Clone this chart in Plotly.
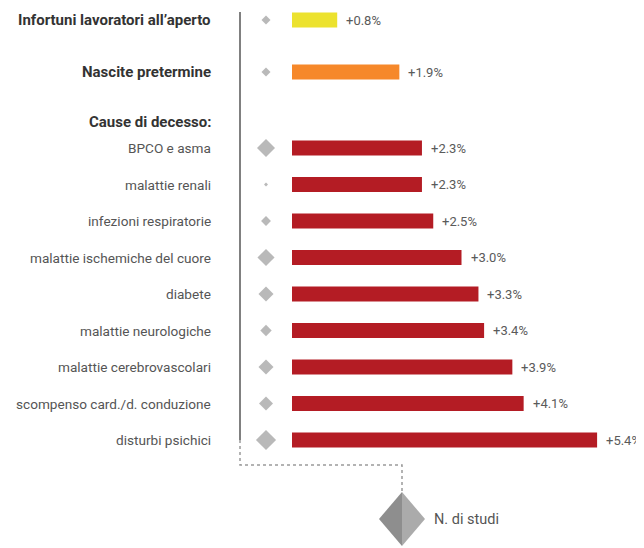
import numpy as np
import plotly.graph_objects as go

# ── Data ────────────────────────────────────────────────────────────────
labels = [
    "Infortuni lavoratori all\u2019aperto",
    "Nascite pretermine",
    "BPCO e asma",
    "malattie renali",
    "infezioni respiratorie",
    "malattie ischemiche del cuore",
    "diabete",
    "malattie neurologiche",
    "malattie cerebrovascolari",
    "scompenso card./d. conduzione",
    "disturbi psichici",
]
values = [0.8, 1.9, 2.3, 2.3, 2.5, 3.0, 3.3, 3.4, 3.9, 4.1, 5.4]
n_studi = [5, 5, 20, 1, 6, 18, 14, 8, 14, 12, 25]
bold_rows = [True, True] + [False] * 9
bar_colors = ["#ece22e", "#f6882a"] + ["#b41c24"] * 9
group_title = "Cause di decesso:"
legend_label = "N. di studi"

# ── Layout geometry (page pixel -> data space) ──────────────────────────
PAGE_W, PAGE_H = 644, 548
OFF = 8                  # body margin of the page around the plot div
X0, XS = 292, 56.5       # pixel of x=0, pixels per percent point
Y0, YS = 148, 36.5       # pixel of first cause row, pixels per row


def px_x(p):
    return (p - X0) / XS


def px_y(p):
    return (p - Y0) / YS


# first two rows sit above the "Cause di decesso" group, with wider gaps
row_y = [px_y(20), px_y(72)] + list(range(len(labels) - 2))

fig = go.Figure()

fig.add_trace(go.Bar(
    x=values, y=row_y, orientation="h",
    marker=dict(color=bar_colors, line=dict(width=0)),
    width=15 / YS, hoverinfo="skip",
))

fig.add_trace(go.Scatter(
    x=[px_x(266)] * len(labels), y=row_y, mode="markers",
    marker=dict(symbol="diamond", color="#9b9b9b",
                size=3.1 * np.sqrt(n_studi), line=dict(width=0)),
    hoverinfo="skip",
))

annotations = []
for lab, y, b in zip(labels, row_y, bold_rows):
    annotations.append(dict(
        x=px_x(213), y=y, text=f"<b>{lab}</b>" if b else lab,
        xanchor="right", yanchor="middle", showarrow=False,
        font=dict(size=15 if b else 13.6, color="#333333" if b else "#555555"),
    ))
annotations.append(dict(
    x=px_x(213), y=px_y(122), text=f"<b>{group_title}</b>",
    xanchor="right", yanchor="middle", showarrow=False,
    font=dict(size=15, color="#333333"),
))
for v, y in zip(values, row_y):
    annotations.append(dict(
        x=v, y=y, text=f"+{v:.1f}%", xanchor="left", yanchor="middle",
        xshift=7, showarrow=False, font=dict(size=13, color="#5a5a5a"),
    ))
annotations.append(dict(
    x=px_x(432), y=px_y(519), text=legend_label, xanchor="left",
    yanchor="middle", showarrow=False, font=dict(size=14.5, color="#555555"),
))

# axis line + dotted connector to the size legend
lx, ly = px_x(402), px_y(519)
hw, hh = 23 / XS, 27 / YS
shapes = [
    dict(type="line", x0=px_x(240), x1=px_x(240), y0=px_y(12), y1=px_y(440),
         line=dict(color="#808080", width=2)),
    dict(type="path",
         path=f"M{px_x(240)},{px_y(440)} L{px_x(240)},{px_y(465)} "
              f"L{lx},{px_y(465)} L{lx},{px_y(493)}",
         line=dict(color="#9a9a9a", width=1.5, dash="dot")),
    dict(type="path",
         path=f"M{lx},{ly - hh} L{lx - hw},{ly} L{lx},{ly + hh} Z",
         fillcolor="#8e8e8e", line=dict(width=0)),
    dict(type="path",
         path=f"M{lx},{ly - hh} L{lx + hw},{ly} L{lx},{ly + hh} Z",
         fillcolor="#ababab", line=dict(width=0)),
]

fig.update_layout(
    width=PAGE_W - OFF, height=PAGE_H - OFF,
    margin=dict(l=0, r=0, t=0, b=0),
    paper_bgcolor="white", plot_bgcolor="white",
    showlegend=False,
    font=dict(family="Roboto, 'Open Sans', sans-serif"),
    xaxis=dict(range=[px_x(OFF), px_x(PAGE_W)], visible=False, fixedrange=True),
    yaxis=dict(range=[px_y(PAGE_H), px_y(OFF)], visible=False, fixedrange=True),
    annotations=annotations,
    shapes=shapes,
)

fig.write_html("out.html")
